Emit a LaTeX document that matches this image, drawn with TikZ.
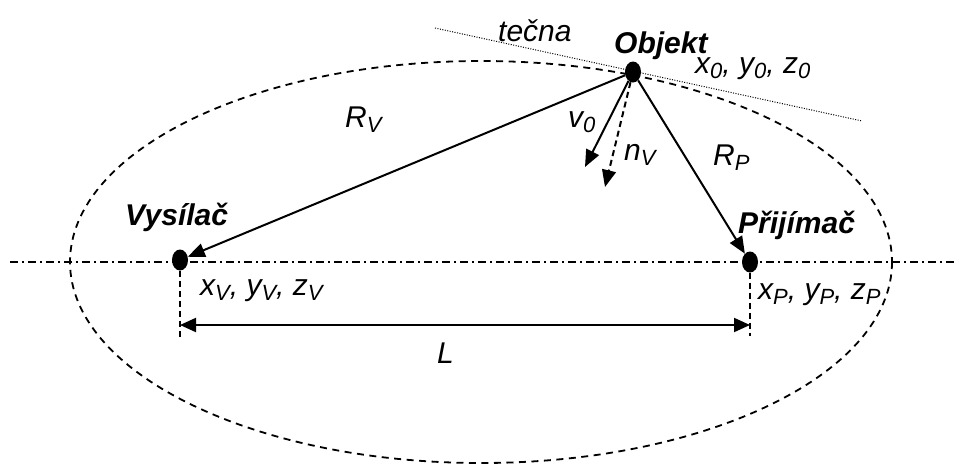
\documentclass[tikz,border=0pt]{standalone}
\usepackage{fontspec}
\setmainfont{Liberation Sans}
\usetikzlibrary{arrows.meta,shapes.geometric}
\newcommand{\lbsub}[1]{\raisebox{-5pt}{\fontsize{22}{22}\selectfont #1}}
\tikzset{
  dotnode/.style={ellipse,fill=black,inner sep=0pt,minimum width=16pt,minimum height=21pt},
  lbl/.style={inner sep=0pt,anchor=base west,font=\fontsize{30}{34}\selectfont\itshape},
  boldlbl/.style={inner sep=0pt,anchor=base west,font=\fontsize{30}{34}\selectfont\bfseries\itshape},
  solidline/.style={line width=2pt},
  arr/.style={solidline,-{Triangle[length=17pt,width=14pt]}},
  dblarr/.style={solidline,{Triangle[length=16pt,width=14pt]}-{Triangle[length=16pt,width=14pt]}},
  ellline/.style={line width=1.8pt,dash pattern=on 7pt off 5.5pt},
  axisline/.style={line width=1.8pt,dash pattern=on 8pt off 4pt on 2pt off 4pt},
  guide/.style={line width=1.8pt,dash pattern=on 6pt off 4pt},
  tangent/.style={line width=1pt,dash pattern=on 1pt off 1.5pt},
}
\begin{document}
\begin{tikzpicture}[x=1pt,y=-1pt]
\useasboundingbox (0,0) rectangle (957,464);
% ellipse
\draw[ellline] (481,262) ellipse [x radius=411, y radius=201];
% axis
\coordinate (A1) at (10,262);
\coordinate (A2) at (955,262);
\draw[axisline] (A1) -- (A2);
% tangent
\coordinate (T1) at (435,28);
\coordinate (T2) at (862,121);
\draw[tangent] (T1) -- (T2);
% dots
\node[dotnode] (O) at (633,72) {};
\node[dotnode] (V) at (180,260) {};
\node[dotnode] (P) at (750,262) {};
% main connectors
\draw[arr] (O) -- (V);
\draw[arr] (O) -- (P);
\coordinate (v0) at (585,167);
\coordinate (nv) at (605,187);
\draw[arr] (O) -- (v0);
\draw[arr,dash pattern=on 6pt off 4pt] (O) -- (nv);
% guides
\coordinate (GV) at (180,338);
\coordinate (GP) at (750,336);
\draw[guide] (V) -- (GV);
\draw[guide] (P) -- (GP);
\coordinate (LV) at (180,325);
\coordinate (LP) at (750,325);
\draw[dblarr] (LV) -- (LP);
% labels
\node[lbl] (tl) at (498,41) {tečna};
\node[boldlbl,text depth=0pt] (on) at (614,53) {Objekt};
\node[lbl,text height=15pt] (oc) at (695,73) {x\lbsub{0}, y\lbsub{0}, z\lbsub{0}};
\node[lbl] (rv) at (345,127) {R\lbsub{V}};
\node[lbl] (vl) at (568,127) {v\lbsub{0}};
\node[lbl] (nl) at (624,160) {n\lbsub{V}};
\node[lbl] (rp) at (713,165) {R\lbsub{P}};
\node[boldlbl] (vn) at (125,225) {Vysílač};
\node[lbl] (vc) at (200,295) {x\lbsub{V}, y\lbsub{V}, z\lbsub{V}};
\node[lbl] (ll) at (437,363) {L};
\node[boldlbl] (pn) at (738,233) {Přijímač};
\node[lbl] (pc) at (758,299) {x\lbsub{P}, y\lbsub{P}, z\lbsub{P}};
\end{tikzpicture}
\end{document}
